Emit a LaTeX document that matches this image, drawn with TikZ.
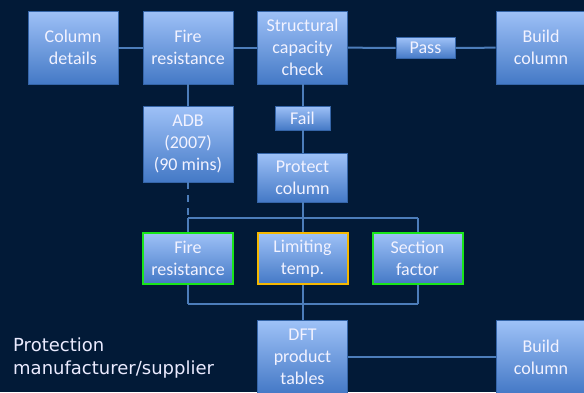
\documentclass[tikz,border=0pt]{standalone}
\usepackage{fontspec}
\setmainfont{Carlito}
\newfontfamily\notefont{DejaVu Sans}
\definecolor{bgnavy}{HTML}{021A37}
\definecolor{boxtop}{HTML}{9EC1F7}
\definecolor{boxbot}{HTML}{4479C6}
\definecolor{boxedge}{HTML}{3565A8}
\definecolor{linkblue}{HTML}{4C7DBA}
\definecolor{okgreen}{HTML}{19E619}
\definecolor{warnorange}{HTML}{F5B800}
\begin{document}
\begin{tikzpicture}[x=1pt, y=-1pt,
  box/.style={rectangle, draw=boxedge, line width=0.8pt, top color=boxtop,
              bottom color=boxbot, text=white!95!blue, inner sep=0pt,
              minimum width=90pt, font=\fontsize{18}{22}\selectfont, align=center},
  bigbox/.style={box, minimum height=73pt},
  tagbox/.style={box, minimum height=21pt},
  okbox/.style={box, minimum height=51pt, draw=okgreen, line width=2pt},
  warnbox/.style={box, minimum height=51pt, draw=warnorange, line width=2pt},
  link/.style={draw=linkblue, line width=2pt}
]
  \fill[bgnavy] (0,0) rectangle (584,392);
  \useasboundingbox (0,0) rectangle (584,392);

  % top row
  \node[bigbox] (col)    at (73, 47.5)    {Column\\details};
  \node[bigbox] (fire)   at (188, 47.5)   {Fire\\resistance};
  \node[bigbox] (struct) at (302.5, 47.5) {Structural\\capacity\\check};
  \node[tagbox, minimum width=59pt] (pass) at (425.5, 48) {Pass};
  \node[bigbox] (build)  at (541, 47.5)   {Build\\column};

  \node[box, minimum height=76pt] (adb) at (188, 144) {ADB\\(2007)\\(90 mins)};
  \node[tagbox, minimum width=55pt, minimum height=24pt] (fail) at (302.5, 118) {Fail};
  \node[box, minimum height=49pt] (protect) at (302.5, 177.5) {Protect\\column};

  % protection inputs
  \node[okbox]   (fireb) at (188, 258.5)   {Fire\\resistance};
  \node[warnbox] (limit) at (302.5, 258.5) {Limiting\\temp.};
  \node[okbox]   (sect)  at (417.5, 258.5) {Section\\factor};

  \node[bigbox] (dft)    at (302.5, 357) {DFT\\product\\tables};
  \node[bigbox] (build2) at (541, 357)   {Build\\column};

  \node[anchor=base west, align=left, inner sep=0pt, text=white!92!blue,
        font=\notefont\fontsize{18}{23}\selectfont] (maker) at (13, 374)
        {Protection\\manufacturer/supplier};

  \coordinate (tl) at (188, 218);
  \coordinate (tr) at (417.5, 218);
  \coordinate (bl) at (188, 304);
  \coordinate (br) at (417.5, 304);

  \draw[link] (col) -- (fire);
  \draw[link] (fire) -- (struct);
  \draw[link] (struct) -- (pass);
  \draw[link] (pass) -- (build);
  \draw[link] (fire) -- (adb);
  \draw[link] (struct) -- (fail);
  \draw[link] (fail) -- (protect);
  \draw[link, dash pattern=on 7pt off 6pt] (adb) -- (tl);
  \draw[link] (tl) -- (tr);
  \draw[link] (tl) -- (fireb);
  \draw[link] (tr) -- (sect);
  \draw[link] (protect) -- (limit);
  \draw[link] (fireb) -- (bl);
  \draw[link] (sect) -- (br);
  \draw[link] (bl) -- (br);
  \draw[link] (limit) -- (dft);
  \draw[link] (dft) -- (build2);
\end{tikzpicture}
\end{document}
